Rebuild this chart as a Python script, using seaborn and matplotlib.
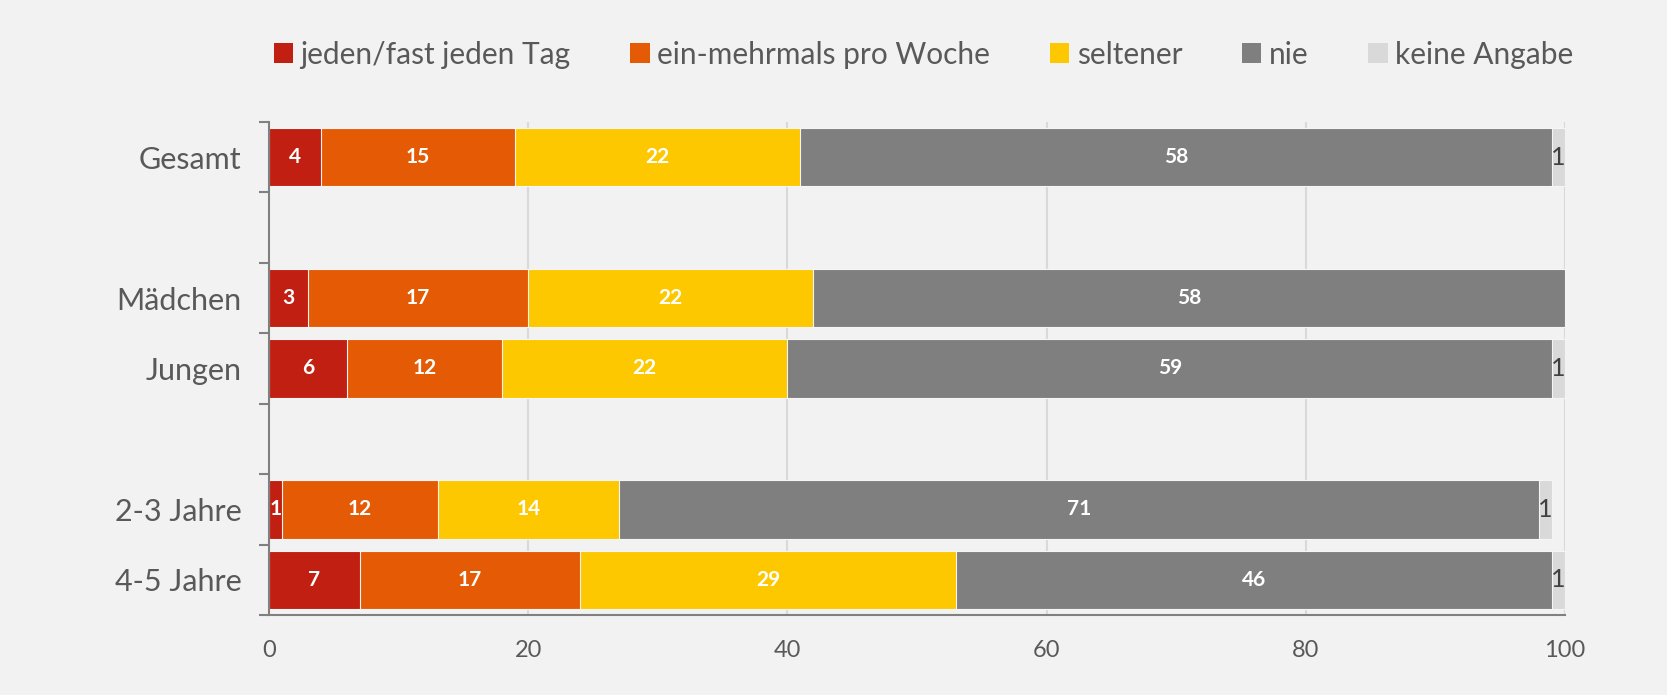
import matplotlib
matplotlib.use("Agg")
import matplotlib.pyplot as plt
import seaborn as sns
import pandas as pd
import numpy as np
from matplotlib.patches import Patch

categories = ["Gesamt", " ", "Mädchen", "Jungen", "  ", "2-3 Jahre", "4-5 Jahre"]
data_cats = ["Gesamt", "Mädchen", "Jungen", "2-3 Jahre", "4-5 Jahre"]
series = ["jeden/fast jeden Tag", "ein-mehrmals pro Woche", "seltener", "nie", "keine Angabe"]
jeden = [4, 3, 6, 1, 7]
woche = [15, 17, 12, 12, 17]
seltener = [22, 22, 22, 14, 29]
nie = [58, 58, 59, 71, 46]
keine = [1, 0, 1, 1, 1]
colors = ["#c01f12", "#e55b05", "#fdc800", "#7f7f7f", "#d9d9d9"]
xticks = [0, 20, 40, 60, 80, 100]

values = np.array([jeden, woche, seltener, nie, keine], dtype=float)
cum = np.cumsum(values, axis=0)

sns.set_theme(style="white")
plt.rcParams["font.family"] = ["Lato", "DejaVu Sans"]
bg = "#f2f2f2"
fig = plt.figure(figsize=(16.67, 6.95), dpi=100, facecolor=bg)
ax = fig.add_axes([0.1614, 0.1151, 0.9388 - 0.1614, 0.8245 - 0.1151])
ax.set_facecolor(bg)

for x in xticks[1:]:
    ax.axvline(x, color="#d9d9d9", lw=1.5, zorder=0)

for i in range(len(series) - 1, -1, -1):
    df = pd.DataFrame({"cat": data_cats, "val": cum[i]})
    sns.barplot(data=df, x="val", y="cat", order=categories, color=colors[i],
                width=0.83, orient="h", ax=ax, saturation=1, linewidth=0.8,
                edgecolor="#f5f5f5", zorder=2)

ypos = {c: categories.index(c) for c in data_cats}
for i in range(len(series)):
    for j, c in enumerate(data_cats):
        v = values[i, j]
        if v <= 0:
            continue
        center = cum[i, j] - v / 2
        if i == len(series) - 1:
            ax.text(center, ypos[c], f"{int(v)}", ha="center", va="center",
                    color="#404040", fontsize=18, zorder=5)
        else:
            ax.text(center, ypos[c], f"{int(v)}", ha="center", va="center",
                    color="white", fontsize=15, fontweight="bold", zorder=5)

ax.set_xlim(0, 100)
ax.set_ylim(len(categories) - 0.5, -0.5)
ax.set_xticks(xticks)
ax.set_xticklabels([str(t) for t in xticks])
ax.set_xticks([0, 100], minor=True)
ax.set_yticks(range(len(categories)))
ax.set_yticklabels(categories)
ax.set_yticks(np.arange(-0.5, len(categories)), minor=True)
ax.tick_params(axis="y", which="major", length=0, pad=20, labelsize=22, labelcolor="#595959")
ax.tick_params(axis="y", which="minor", length=7, width=1.5, color="#808080", left=True)
ax.tick_params(axis="x", which="major", length=0, pad=18, labelsize=17, labelcolor="#595959")
ax.tick_params(axis="x", which="minor", length=6, width=1.5, color="#808080", bottom=True)
ax.set_xlabel("")
ax.set_ylabel("")
for s in ["top", "right"]:
    ax.spines[s].set_visible(False)
for s in ["left", "bottom"]:
    ax.spines[s].set_color("#808080")
    ax.spines[s].set_linewidth(1.5)

handles = [Patch(facecolor=c, edgecolor="none") for c in colors]
fig.legend(handles, series, loc="center", bbox_to_anchor=(0.554, 0.921), ncol=5,
           frameon=False, fontsize=21.5, handlelength=0.65, handleheight=0.65,
           handletextpad=0.25, columnspacing=2.0, labelcolor="#595959")

fig.savefig("out.png", dpi=100, facecolor=bg)
